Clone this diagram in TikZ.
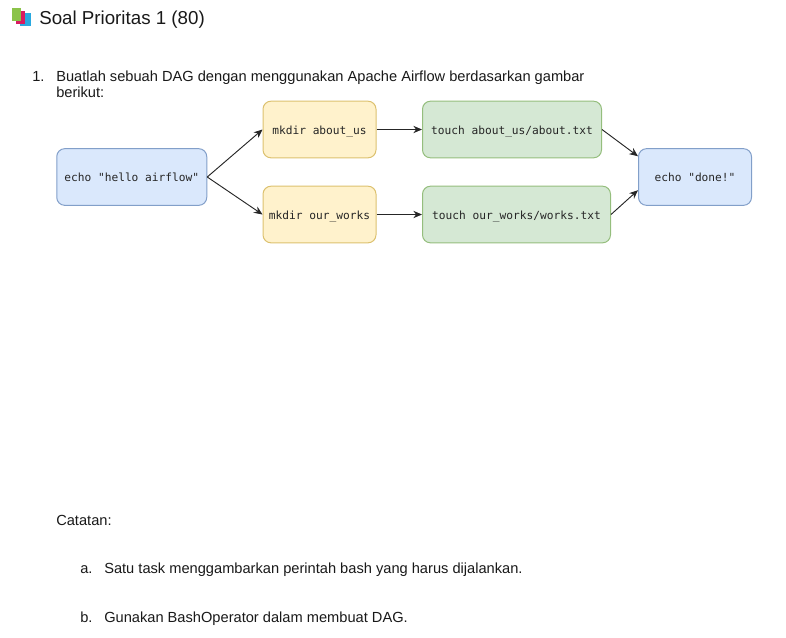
\documentclass[tikz,border=0pt]{standalone}
\usepackage{fontspec}
\setmainfont{Liberation Sans}
\setmonofont{DejaVu Sans Mono}
\usetikzlibrary{shapes.geometric, arrows.meta}
\definecolor{bluefill}{HTML}{DAE8FC}
\definecolor{blueline}{HTML}{6C8EBF}
\definecolor{yellowfill}{HTML}{FFF2CC}
\definecolor{yellowline}{HTML}{D6B656}
\definecolor{greenfill}{HTML}{D5E8D4}
\definecolor{greenline}{HTML}{82B366}
\definecolor{icongreen}{HTML}{8BC34A}
\definecolor{iconred}{HTML}{D81B60}
\definecolor{iconblue}{HTML}{29A9E0}
\tikzset{
	task/.style={draw, rounded corners=6pt, line width=0.75pt, minimum height=42.5pt, inner sep=0pt, text height=8.9pt, text depth=2pt, font=\ttfamily\fontsize{8.4}{10}\selectfont, text=black!85},
	bluetask/.style={task, fill=bluefill, draw=blueline!85},
	yellowtask/.style={task, fill=yellowfill, draw=yellowline!85},
	greentask/.style={task, fill=greenfill, draw=greenline!85},
	body/.style={anchor=base west, inner sep=0pt, font=\fontsize{10.98}{13}\selectfont, text=black!90},
	link/.style={-{Stealth[length=6.5pt,width=5.5pt]}, line width=0.7pt, black!85}
}

\begin{document}
\begin{tikzpicture}[x=0.75pt,y=-0.75pt]
	\useasboundingbox (0,0) rectangle (786,637);
	% icon
	\fill[iconblue] (20,13) rectangle (31,26);
	\fill[iconred] (16,11) rectangle (25,24);
	\fill[icongreen] (12,8) rectangle (21,21);
	% texts
	\node[body, font=\fontsize{14.05}{16}\selectfont] (title) at (39,24) {Soal Prioritas 1 (80)};
	\node[body] (num1) at (32,81) {1.};
	\node[body] (line1) at (56,81) {Buatlah sebuah DAG dengan menggunakan Apache Airflow berdasarkan gambar};
	\node[body] (line2) at (56,97) {berikut:};
	\node[body] (note) at (56,525) {Catatan:};
	\node[body] (numa) at (80,573) {a.};
	\node[body] (notea) at (104,573) {Satu task menggambarkan perintah bash yang harus dijalankan.};
	\node[body] (numb) at (80,622) {b.};
	\node[body] (noteb) at (104,622) {Gunakan BashOperator dalam membuat DAG.};
	% tasks
	\node[bluetask, minimum width=112.5pt] (hello) at (131.75,177) {echo "hello airflow"};
	\node[yellowtask, minimum width=84.75pt] (about) at (319.5,129.5) {mkdir about\_us};
	\node[yellowtask, minimum width=84.75pt] (works) at (319.5,214.5) {mkdir our\_works};
	\node[greentask, minimum width=134.25pt] (aboutfile) at (512,129.5) {touch about\_us/about.txt};
	\node[greentask, minimum width=141pt] (worksfile) at (516.5,214.5) {touch our\_works/works.txt};
	\node[bluetask, minimum width=84.75pt] (done) at (695,177) {echo "done!"};
	% links
	\draw[link] (hello.east)--(about.west);
	\draw[link] (hello.east)--(works.west);
	\draw[link] (about.east)--(aboutfile.west);
	\draw[link] (works.east)--(worksfile.west);
	\draw[link] (aboutfile.east)--(done.160);
	\draw[link] (worksfile.east)--(done.193);
\end{tikzpicture}
\end{document}
